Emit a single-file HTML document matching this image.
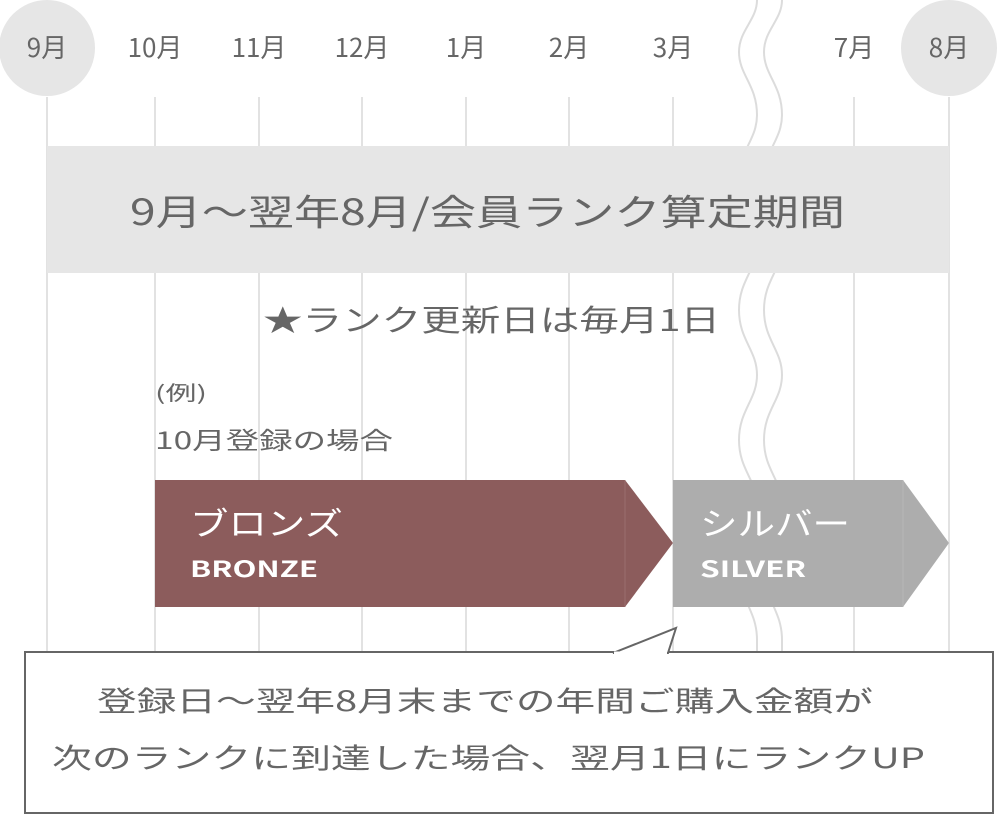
<!DOCTYPE html>
<html><head><meta charset="utf-8"><style>
body{margin:0;background:#fff;}
svg text{font-family:"Noto Sans CJK JP","Liberation Sans",sans-serif;}
</style></head><body>
<svg width="1000" height="815" viewBox="0 0 1000 815" xmlns="http://www.w3.org/2000/svg">
<g stroke="#e2e2e2" stroke-width="2">
<line x1="47" y1="97" x2="47" y2="660"/><line x1="155" y1="97" x2="155" y2="660"/>
<line x1="259" y1="97" x2="259" y2="660"/><line x1="362" y1="97" x2="362" y2="660"/>
<line x1="466" y1="97" x2="466" y2="660"/><line x1="569" y1="97" x2="569" y2="660"/>
<line x1="673" y1="97" x2="673" y2="660"/><line x1="854" y1="97" x2="854" y2="660"/>
<line x1="949" y1="97" x2="949" y2="660"/>
</g>
<g fill="none" stroke="#dcdcdc" stroke-width="2">
<path d="M757 0 C757 20 739 30 739 52 C739 75 757 85 757 115 C757 140 739 150 739 180 C739 210 757 220 757 245 C757 270 739 280 739 310 C739 340 757 350 757 375 C757 400 739 410 739 440 C739 470 757 480 757 505 C757 530 739 540 739 570 C739 600 757 610 757 640 L757 660"/>
<path d="M782 0 C782 20 764 30 764 52 C764 75 782 85 782 115 C782 140 764 150 764 180 C764 210 782 220 782 245 C782 270 764 280 764 310 C764 340 782 350 782 375 C782 400 764 410 764 440 C764 470 782 480 782 505 C782 530 764 540 764 570 C764 600 782 610 782 640 L782 660"/>
</g>
<circle cx="47" cy="48" r="48" fill="#e6e6e6"/><circle cx="949" cy="48" r="48" fill="#e6e6e6"/>
<g fill="#666" font-size="26" text-anchor="middle">
<text x="47" y="57">9月</text><text x="155" y="57">10月</text><text x="259" y="57">11月</text>
<text x="362" y="57">12月</text><text x="466" y="57">1月</text><text x="569" y="57">2月</text>
<text x="673" y="57">3月</text><text x="854" y="57">7月</text><text x="949" y="57">8月</text>
</g>
<rect x="47" y="146" width="902" height="127" fill="#e6e6e6"/>
<text x="130" y="225" font-size="36" fill="#666" textLength="715" lengthAdjust="spacingAndGlyphs">9月～翌年8月/会員ランク算定期間</text>
<text x="263" y="331" font-size="30" fill="#666" textLength="457" lengthAdjust="spacingAndGlyphs">★ランク更新日は毎月1日</text>
<text x="155" y="400" font-size="20" fill="#666" textLength="52" lengthAdjust="spacingAndGlyphs">(例)</text>
<text x="155" y="449" font-size="24" fill="#666" textLength="238" lengthAdjust="spacingAndGlyphs">10月登録の場合</text>
<polygon points="155,480 625,480 673,543 625,607 155,607" fill="#8c5c5c"/>
<line x1="625" y1="480" x2="625" y2="607" stroke="#9a6e6e" stroke-width="1"/>
<text x="190" y="535" font-size="32" fill="#fff" textLength="153" lengthAdjust="spacingAndGlyphs">ブロンズ</text>
<text x="190" y="577" font-size="22" font-weight="bold" fill="#fff" textLength="128" lengthAdjust="spacingAndGlyphs">BRONZE</text>
<polygon points="673,480 903,480 949,543 903,607 673,607" fill="#adadad"/>
<line x1="903" y1="480" x2="903" y2="607" stroke="#b8b8b8" stroke-width="1"/>
<text x="700" y="535" font-size="32" fill="#fff" textLength="150" lengthAdjust="spacingAndGlyphs">シルバー</text>
<text x="700" y="577" font-size="22" font-weight="bold" fill="#fff" textLength="106" lengthAdjust="spacingAndGlyphs">SILVER</text>
<rect x="25" y="652" width="968" height="161" fill="#fff" stroke="#666" stroke-width="2"/>
<polygon points="613,653 676,628 668,653" fill="#fff" stroke="#666" stroke-width="2"/>
<line x1="614" y1="653" x2="667" y2="653" stroke="#fff" stroke-width="3"/>
<text x="97" y="711" font-size="28" fill="#666" textLength="776" lengthAdjust="spacingAndGlyphs">登録日～翌年8月末までの年間ご購入金額が</text>
<text x="52" y="768" font-size="28" fill="#666" textLength="873" lengthAdjust="spacingAndGlyphs">次のランクに到達した場合、翌月1日にランクUP</text>
</svg>
</body></html>
